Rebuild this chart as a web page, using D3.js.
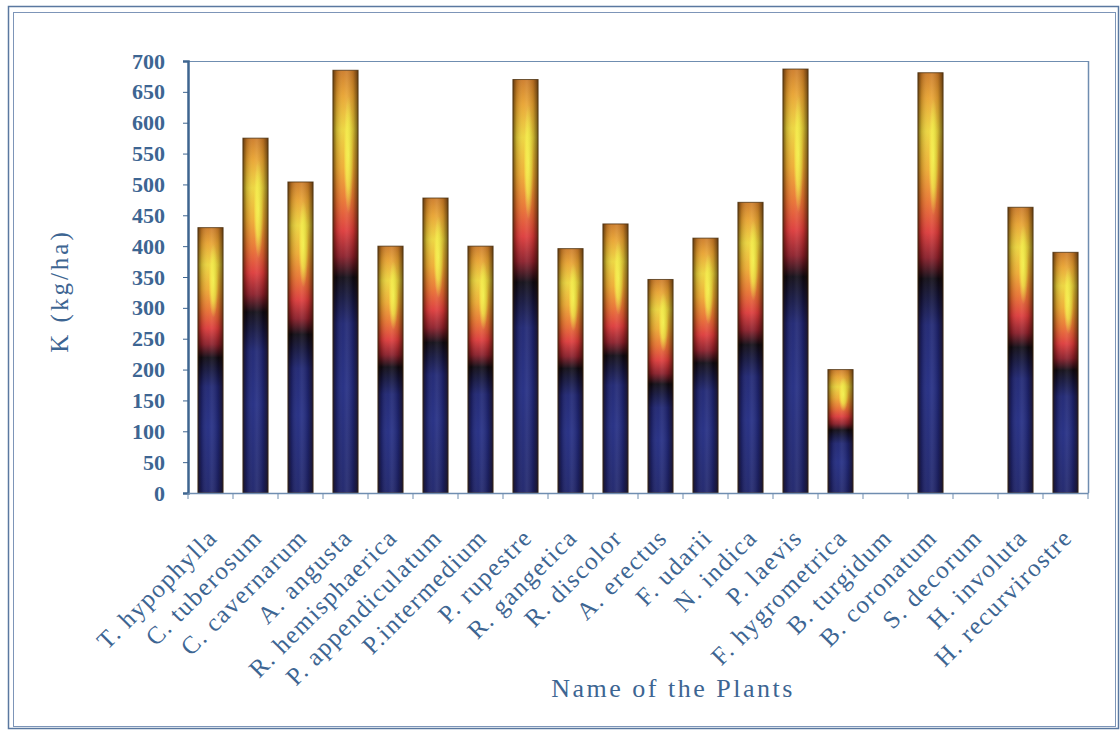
<!DOCTYPE html>
<html>
<head>
<meta charset="utf-8">
<script src="https://cdn.jsdelivr.net/npm/d3@7"></script>
<style>
  html, body { margin: 0; padding: 0; background: #ffffff; }
  svg { display: block; }
</style>
</head>
<body>
<svg id="chart" width="1120" height="730"></svg>
<script>
const categories = ["T. hypophylla", "C. tuberosum", "C. cavernarum", "A. angusta", "R. hemisphaerica",
  "P. appendiculatum", "P.intermedium", "P. rupestre", "R. gangetica", "R. discolor", "A. erectus",
  "F. udarii", "N. indica", "P. laevis", "F. hygrometrica", "B. turgidum", "B. coronatum",
  "S. decorum", "H. involuta", "H. recurvirostre"];
const kValues = [430, 575, 504, 685, 400, 478, 400, 670, 396, 436, 346, 413, 471, 687, 200, 0, 681, 0, 463, 390];
const yTicks = [0, 50, 100, 150, 200, 250, 300, 350, 400, 450, 500, 550, 600, 650, 700];
const yTitle = "K (kg/ha)";
const xTitle = "Name of the Plants";

const svg = d3.select("#chart");
const margin = { left: 188, right: 32, top: 61, bottom: 237 };
const W = 1120, H = 730;
const plotW = W - margin.left - margin.right;
const plotH = H - margin.top - margin.bottom;
const textColor = "#3d6592";
const font = "'Liberation Serif', 'Times New Roman', serif";

// outer double frame
svg.append("rect").attr("x", 8.5).attr("y", 6.5).attr("width", 1110).attr("height", 722)
  .attr("fill", "none").attr("stroke", "#5a78a0").attr("stroke-width", 1.5);
svg.append("rect").attr("x", 13.5).attr("y", 12.5).attr("width", 1102).attr("height", 714)
  .attr("fill", "none").attr("stroke", "#7d95b8").attr("stroke-width", 1);

const defs = svg.append("defs");
const vg = defs.append("linearGradient").attr("id", "vgrad")
  .attr("x1", 0).attr("y1", 1).attr("x2", 0).attr("y2", 0);
[[0, "#1a2068"], [0.25, "#1e2880"], [0.4, "#1a2170"], [0.46, "#10123e"], [0.51, "#0c0812"],
 [0.56, "#8a1c28"], [0.62, "#dc3838"], [0.69, "#e8702e"], [0.77, "#eeaa30"], [0.86, "#ecd43a"],
 [0.94, "#e8a22e"], [1, "#cc7a26"]]
  .forEach(([o, c]) => vg.append("stop").attr("offset", o).attr("stop-color", c));

const hg = defs.append("linearGradient").attr("id", "hgrad")
  .attr("x1", 0).attr("y1", 0).attr("x2", 1).attr("y2", 0);
[[0, "rgba(25,12,0,0.6)"], [0.15, "rgba(25,12,0,0.18)"], [0.4, "rgba(255,255,255,0.05)"],
 [0.55, "rgba(255,255,255,0.1)"], [0.8, "rgba(25,12,0,0.15)"], [1, "rgba(25,12,0,0.6)"]]
  .forEach(([o, c]) => hg.append("stop").attr("offset", o).attr("stop-color", c));

const rg = defs.append("radialGradient").attr("id", "hl");
[[0, "rgba(248,245,70,1)"], [0.55, "rgba(245,238,60,0.75)"], [1, "rgba(245,230,60,0)"]]
  .forEach(([o, c]) => rg.append("stop").attr("offset", o).attr("stop-color", c));

const g = svg.append("g").attr("transform", `translate(${margin.left},${margin.top})`);

const x = d3.scaleBand().domain(categories).range([0, plotW]).paddingInner(0.44).paddingOuter(0.22);
const y = d3.scaleLinear().domain([0, 700]).range([plotH, 0]);

// plot frame (top & right)
g.append("line").attr("x1", 0).attr("x2", plotW).attr("y1", 0.5).attr("y2", 0.5)
  .attr("stroke", "#6f8db0").attr("stroke-width", 1);
g.append("line").attr("x1", plotW + 0.5).attr("x2", plotW + 0.5).attr("y1", 0).attr("y2", plotH)
  .attr("stroke", "#6f8db0").attr("stroke-width", 1.5);

// bars
const data = categories.map((c, i) => ({ c, v: kValues[i] })).filter(d => d.v > 0);
const bars = g.append("g").selectAll("g").data(data).join("g");
bars.append("rect")
  .attr("x", d => x(d.c)).attr("y", d => y(d.v))
  .attr("width", x.bandwidth()).attr("height", d => y(0) - y(d.v))
  .attr("fill", "url(#vgrad)");
bars.append("ellipse")
  .attr("cx", d => x(d.c) + x.bandwidth() * 0.62)
  .attr("cy", d => y(d.v * 0.8))
  .attr("rx", x.bandwidth() * 0.2)
  .attr("ry", d => (y(0) - y(d.v)) * 0.14)
  .attr("fill", "url(#hl)");
bars.append("rect")
  .attr("x", d => x(d.c)).attr("y", d => y(d.v))
  .attr("width", x.bandwidth()).attr("height", d => y(0) - y(d.v))
  .attr("fill", "url(#hgrad)")
  .attr("stroke", "rgba(70,45,15,0.75)").attr("stroke-width", 1);

// y axis
const yAxis = g.append("g")
  .call(d3.axisLeft(y).tickValues(yTicks).tickSize(5).tickPadding(18).tickFormat(d3.format("d")));
yAxis.select(".domain").attr("stroke", "#3e6590").attr("stroke-width", 2.5);
yAxis.selectAll(".tick line").attr("stroke", "#3e6590");
yAxis.selectAll(".tick text")
  .attr("fill", textColor).attr("font-family", font).attr("font-size", 22).attr("font-weight", "bold");

// x axis
const xAxis = g.append("g").attr("transform", `translate(0,${plotH})`)
  .call(d3.axisBottom(x).tickSize(0).tickFormat(""));
xAxis.select(".domain").attr("stroke", "#6f8db0").attr("stroke-width", 1.5);
const step = x.step();
const b0 = x(categories[0]) - x.paddingOuter() * step;
xAxis.selectAll(".btick").data(d3.range(categories.length + 1)).join("line")
  .attr("class", "btick")
  .attr("x1", i => b0 + i * step).attr("x2", i => b0 + i * step)
  .attr("y1", 0).attr("y2", 6).attr("stroke", "#6f8db0").attr("stroke-width", 1);

xAxis.selectAll(".xl").data(categories).join("text")
  .attr("class", "xl")
  .attr("transform", d => `translate(${x(d) + x.bandwidth() / 2 + 2},${40}) rotate(-45)`)
  .attr("text-anchor", "end")
  .attr("dy", "0.35em")
  .attr("letter-spacing", 1.5)
  .attr("fill", textColor).attr("font-family", font).attr("font-size", 25)
  .text(d => d);

// titles
svg.append("text")
  .attr("transform", `translate(${68},${291}) rotate(-90)`)
  .attr("text-anchor", "middle")
  .attr("letter-spacing", 3)
  .attr("fill", textColor).attr("font-family", font).attr("font-size", 25)
  .text(yTitle);
svg.append("text")
  .attr("x", 673).attr("y", 697)
  .attr("text-anchor", "middle")
  .attr("letter-spacing", 2.5)
  .attr("fill", textColor).attr("font-family", font).attr("font-size", 26)
  .text(xTitle);
</script>
</body>
</html>
